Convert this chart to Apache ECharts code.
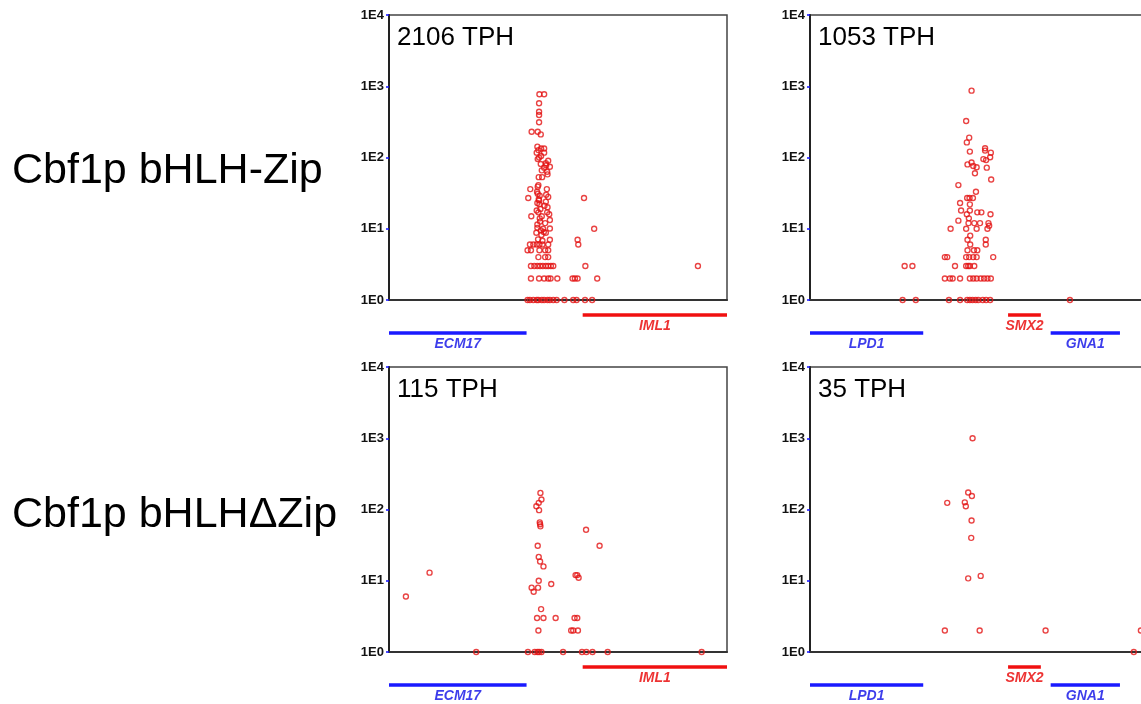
<!DOCTYPE html>
<html><head><meta charset="utf-8">
<script src="https://cdn.jsdelivr.net/npm/echarts@6/dist/echarts.min.js"></script>
<style>html,body{margin:0;padding:0;background:#fff}#c{width:1141px;height:704px}</style>
</head><body><div id="c"></div>
<script>
// ---- tick labels / texts ----
const yTicks = ['1E0', '1E1', '1E2', '1E3', '1E4'];
const rowLabels = ['Cbf1p bHLH-Zip', 'Cbf1p bHLH\u0394Zip'];
const panelLabels = ['2106 TPH', '1053 TPH', '115 TPH', '35 TPH'];

// ---- insertion sites: [position (0-100 of window), tags] ----
const zipEcm = [
  [44.5,771],[45.9,771],[44.4,576],[44.4,439],[44.4,395],[44.4,312],[42.2,230],[44.0,230],[44.9,211],
  [43.9,142],[44.2,127],[45.0,134],[45.9,134],[45.9,117],[43.7,117],[44.4,100],[45.0,105],[44.0,95],
  [47.1,90],[46.4,83],[44.9,81],[46.5,78],[47.6,74],[45.9,72],[45.2,66],[46.8,63],[46.9,58],
  [44.3,53],[45.3,53],[44.2,41],[44.0,39],[41.8,36],[46.7,36],[43.8,33],[44.0,31],[46.5,30],[44.6,29],
  [41.2,27],[47.1,28],[44.3,26],[44.4,25],[46.4,24],[43.9,23],[44.5,22],[46.0,21],[46.9,20],[44.8,19],
  [43.7,18],[44.2,17],[46.8,17],[47.4,16],[42.1,15],[45.2,15],[44.6,14],[47.6,13.3],[44.7,12.6],[46.2,12],
  [43.9,11.5],[43.9,10.3],[47.6,10.1],[45.6,10],[44.9,9.5],[45.8,9],[43.6,8.8],[46.4,8.8],[45.1,8.2],
  [44.1,7.1],[45.4,6.8],[47.6,7],
  [41.7,6],[42.7,6],[43.7,6],[44.5,6],[45.4,6],[47.1,6],
  [41.0,5],[42.0,5],[44.5,5],[46.2,5],[47.1,5],
  [44.2,4],[46.2,4],[47.1,4],
  [42.0,3],[43.0,3],[43.9,3],[44.7,3],[45.5,3],[46.4,3],[47.1,3],[47.9,3],[48.6,3],
  [42.0,2],[44.4,2],[45.9,2],[47.1,2],[47.8,2],[49.8,2],
  [41.0,1],[41.7,1],[42.7,1],[43.7,1],[44.2,1],[45.2,1],[45.9,1],[46.9,1],[47.6,1],[48.6,1],[49.6,1],
  [57.7,27],[60.7,10],[55.8,7],[56.0,6],[58.1,3],[54.3,2],[55.0,2],[55.8,2],[61.6,2],
  [51.9,1],[54.5,1],[55.5,1],[58.0,1],[60.1,1],[91.4,3]
];
const zipLpd = [
  [47.8,867],[46.2,325],[47.1,190],[46.4,163],[47.3,121],
  [51.8,135],[51.8,125],[53.5,117],[53.3,101],[51.3,95],[52.1,92],
  [46.6,80],[47.8,85],[48.3,76],[49.3,73],[48.8,60],[52.3,72],
  [53.6,49],[43.9,41],[49.1,33],[46.5,27],[47.2,27],[48.2,27],
  [44.4,23],[47.3,22],[44.7,18],[47.3,18],[46.4,16],[49.5,17],[50.7,17],[53.4,16],
  [43.9,13],[47.0,14],[46.9,12],[48.6,12],[50.3,12],[52.8,12],[53.0,11],
  [41.6,10],[46.2,10],[49.3,10],[52.5,10],
  [47.4,8],[46.6,7],[52.0,7],[47.4,6],[52.0,6],[46.6,5],[48.5,5],[49.5,5],
  [39.9,4],[40.6,4],[46.2,4],[47.1,4],[48.3,4],[49.3,4],[54.2,4],
  [28.0,3],[30.3,3],[42.9,3],[46.2,3],[46.8,3],[47.3,3],[48.6,3],
  [39.9,2],[41.4,2],[42.2,2],[44.4,2],[47.3,2],[48.3,2],[49.3,2],[50.5,2],[51.5,2],[52.5,2],[53.5,2],
  [27.4,1],[31.3,1],[41.1,1],[44.4,1],[46.5,1],[47.3,1],[48.1,1],[49.0,1],[49.8,1],[51.1,1],[52.1,1],[53.3,1],[76.9,1]
];
const dzipEcm = [
  [44.8,171],[45.1,138],[44.3,124],[43.6,111],[44.4,98],[44.6,66],[44.7,62],[44.8,58],
  [58.3,52],[62.3,31],[44.0,31],[44.3,21.6],[44.7,18.6],[45.7,15.9],[12.0,13],
  [55.2,12],[55.7,12],[56.1,11],[44.3,10],[42.2,8],[42.8,7],[44.1,8],[48.0,9],[5.0,6],[45.0,4],
  [43.8,3],[45.7,3],[49.3,3],[54.9,3],[55.7,3],
  [44.2,2],[53.9,2],[54.5,2],[55.9,2],
  [25.8,1],[41.1,1],[43.1,1],[43.9,1],[44.4,1],[45.1,1],[51.5,1],[57.1,1],[58.4,1],[60.2,1],[64.7,1],[92.5,1]
];
const dzipLpd = [
  [48.1,1000],[46.8,173],[47.9,155],[40.6,124],[45.8,126],[46.1,111],[47.8,70],[47.7,40],
  [46.8,10.8],[50.5,11.7],[39.9,2],[50.2,2],[69.7,2],[97.9,2],[95.8,1]
];

// ---- gene annotations (window coordinates, strand) ----
const genesEcm = [
  {name:'ECM17', start:0, end:40.7, strand:'-'},
  {name:'IML1', start:57.3, end:100, strand:'+'}
];
const genesLpd = [
  {name:'LPD1', start:0, end:33.5, strand:'-'},
  {name:'SMX2', start:58.6, end:68.3, strand:'+'},
  {name:'GNA1', start:71.2, end:91.7, strand:'-'}
];

const panelData = [zipEcm, zipLpd, dzipEcm, dzipLpd];
const panelGenes = [genesEcm, genesLpd, genesEcm, genesLpd];

// ---- layout ----
const FONT = '"Liberation Sans", Arial, sans-serif';
const lefts = [389, 810, 389, 810];
const tops = [15, 15, 367, 367];
const PW = 338, PH = 285;
const RED = '#e41414';
const strandColor = s => s === '+' ? '#f01010' : '#1a1aff';
const strandText = s => s === '+' ? '#e80000' : '#0c0ce6';
const strandRow = s => s === '+' ? 1 : 0;

const grid = [], xAxis = [], yAxis = [], series = [];
for (let i = 0; i < 4; i++) {
  grid.push({left: lefts[i], top: tops[i], width: PW, height: PH, show: true,
    outerBoundsMode: 'none', containLabel: false,
    borderColor: '#444', borderWidth: 1.5, backgroundColor: 'transparent'});
  xAxis.push({type: 'value', gridIndex: i, min: 0, max: 100,
    axisLine: {show: true, onZero: false, lineStyle: {color: '#333', width: 2}},
    axisTick: {show: false}, axisLabel: {show: false}, splitLine: {show: false}});
  yAxis.push({type: 'log', logBase: 10, gridIndex: i, min: 1, max: 10000,
    axisLine: {show: true, lineStyle: {color: '#222', width: 2}},
    axisTick: {show: true, length: 3, lineStyle: {color: '#1010ff', width: 1.5}},
    minorTick: {show: false},
    axisLabel: {show: true, margin: 5, color: '#111', fontFamily: FONT, fontWeight: 'bold', fontSize: 13,
      formatter: v => yTicks[Math.round(Math.log10(v))]},
    splitLine: {show: false}});
  series.push({type: 'scatter', xAxisIndex: i, yAxisIndex: i, data: panelData[i],
    symbol: 'circle', symbolSize: 5, silent: true,
    itemStyle: {color: 'rgba(0,0,0,0)', borderColor: RED, borderWidth: 1.4}});
}
// gene track grids
for (let i = 0; i < 4; i++) {
  const gi = 4 + i;
  grid.push({left: lefts[i], top: tops[i] + PH - 3, width: PW, height: 54, show: false,
    outerBoundsMode: 'none', containLabel: false});
  xAxis.push({type: 'value', gridIndex: gi, min: 0, max: 100, show: false});
  yAxis.push({type: 'value', gridIndex: gi, min: -1, max: 2, show: false});
  panelGenes[i].forEach(g => {
    const row = strandRow(g.strand);
    series.push({type: 'line', xAxisIndex: gi, yAxisIndex: gi, silent: true, symbol: 'none',
      data: [[g.start, row], [g.end, row]],
      lineStyle: {color: strandColor(g.strand), width: 3.4}});
  });
  series.push({type: 'scatter', xAxisIndex: gi, yAxisIndex: gi, silent: true, symbolSize: 1,
    itemStyle: {color: 'rgba(0,0,0,0)'},
    data: panelGenes[i].map(g => ({name: g.name, value: [(g.start + g.end) / 2, strandRow(g.strand)],
      label: {color: strandText(g.strand)}})),
    label: {show: true, position: 'bottom', distance: 4, formatter: '{b}', fontFamily: FONT,
      fontStyle: 'italic', fontWeight: 'bold', fontSize: 14}});
}

const graphic = [];
for (let i = 0; i < 4; i++) {
  graphic.push({type: 'text', left: lefts[i] + 8, top: tops[i] + 10,
    style: {text: panelLabels[i], fontFamily: FONT, fontSize: 26, fill: '#000'}});
}
graphic.push({type: 'text', left: 12, top: 150, style: {text: rowLabels[0], fontFamily: FONT, fontSize: 43, fill: '#000'}});
graphic.push({type: 'text', left: 12, top: 494, style: {text: rowLabels[1], fontFamily: FONT, fontSize: 43, fill: '#000'}});

const chart = echarts.init(document.getElementById('c'), null, {renderer: 'canvas'});
chart.setOption({animation: false, backgroundColor: '#fff', grid, xAxis, yAxis, series, graphic});
</script>
</body></html>
